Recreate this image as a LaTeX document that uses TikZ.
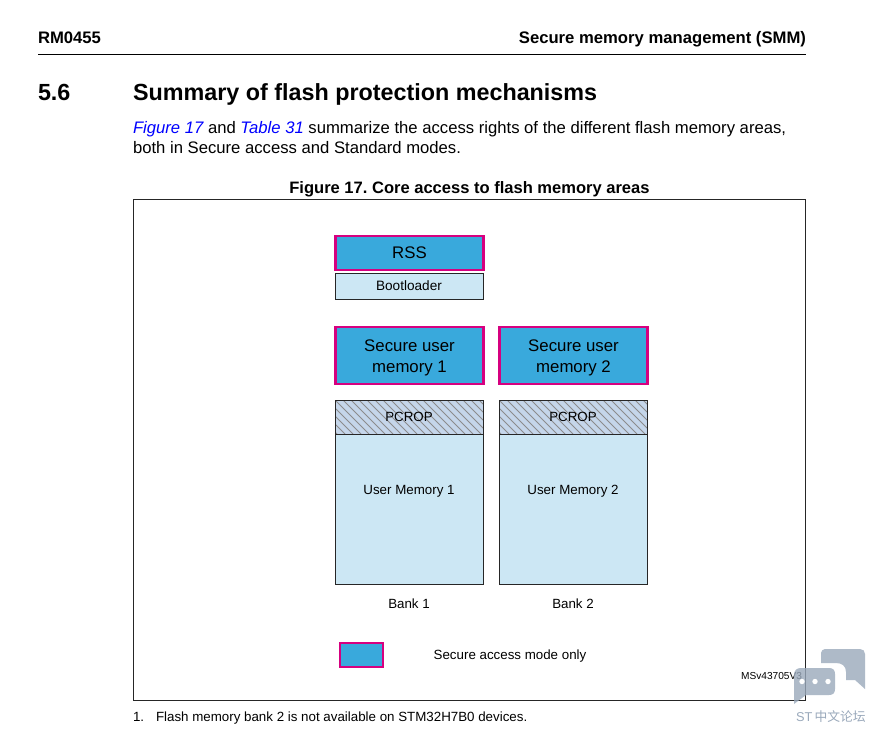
\documentclass[tikz,border=0pt]{standalone}
\usepackage{fontspec}
\setmainfont{Liberation Sans}
\newfontfamily\cjk{Noto Sans CJK SC}
\definecolor{stblue}{HTML}{39A9DC}
\definecolor{stlight}{HTML}{CCE7F4}
\definecolor{stpcrop}{HTML}{C5D6EA}
\definecolor{stpink}{HTML}{D6007F}
\definecolor{stwm}{HTML}{9AA9BB}
\definecolor{stlink}{HTML}{0000FF}
\newcommand{\fs}[1]{\fontsize{#1}{#1}\selectfont}
\tikzset{
  txt/.style={inner sep=0pt,outer sep=0pt,text=black},
  secure/.style={draw=stpink,line width=1.6pt,fill=stblue,minimum width=148*0.75pt,align=center,inner sep=0pt,font=\fs{12.6}},
  plain/.style={draw=black!85,line width=0.75pt,fill=stlight,inner sep=0pt,align=center},
  hatchbox/.style={draw=black!85,line width=0.75pt,fill=stpcrop,inner sep=0pt},
  hatchline/.style={draw=black!45,line width=0.7pt},
  wm/.style={fill=stwm,draw=none,fill opacity=0.8}
}
\begin{document}
\frenchspacing
\begin{tikzpicture}[x=0.75pt,y=-0.75pt]
\useasboundingbox (0,0) rectangle (873,732);
\fill[white] (0,0) rectangle (873,732);
% header
\node[txt,anchor=base west,font=\fs{12.5}\bfseries] (rm) at (38,43) {RM0455};
\node[txt,anchor=base east,font=\fs{12.5}\bfseries] (smm) at (806,43) {Secure memory management (SMM)};
\draw[black,line width=0.6pt] (38,54.5) -- (806,54.5);
\node[txt,anchor=base west,font=\fs{17.5}\bfseries] (sec) at (38,100) {5.6};
\node[txt,anchor=base west,font=\fs{17.5}\bfseries] (title) at (133,100) {Summary of flash protection mechanisms};
\node[txt,anchor=base west,font=\fs{12.5}] (p1) at (133,133) {{\color{stlink}\itshape Figure 17} and {\color{stlink}\itshape Table 31} summarize the access rights of the different flash memory areas,};
\node[txt,anchor=base west,font=\fs{12.5}] (p2) at (133,153) {both in Secure access and Standard modes.};
\node[txt,anchor=base,font=\fs{12.4}\bfseries] (cap) at (469.5,193) {Figure 17. Core access to flash memory areas};
% frame
\draw[black!85,line width=0.75pt] (133,199.5) rectangle (805.5,700);
% boxes
\node[secure,minimum height=34*0.75pt] (rss) at (409.5,253) {RSS};
\node[plain,minimum width=148*0.75pt,minimum height=26*0.75pt,font=\fs{10.2}] (boot) at (409,286) {Bootloader};
\node[secure,minimum height=57*0.75pt] (s1) at (409.5,355.5) {\rule{0pt}{12.6pt}Secure user\\[2.7pt]memory 1};
\node[secure,minimum height=57*0.75pt] (s2) at (573.5,355.5) {\rule{0pt}{12.6pt}Secure user\\[2.7pt]memory 2};
% PCROP and user memory
\foreach \n/\xa/\xb/\cx in {1/335/483/409,2/499/647/573}{
  \node[plain,minimum width=148*0.75pt,minimum height=150*0.75pt] (u\n) at (\cx,509) {};
  \node[txt,font=\fs{10}] (ut\n) at (\cx,491.5) {User Memory \n};
  \node[hatchbox,minimum width=148*0.75pt,minimum height=34*0.75pt] (p\n) at (\cx,417) {};
  \begin{scope}
    \clip (\xa,400) rectangle (\xb,434);
    \foreach \d in {-32,-24,...,160}{
      \draw[hatchline] (\xa+\d,400) -- (\xa+\d+34,434);
    }
  \end{scope}
  \draw[black!85,line width=0.75pt] (\xa,400) rectangle (\xb,434);
  \node[txt,font=\fs{10}] (pt\n) at (\cx,416.5) {PCROP};
  \node[txt,font=\fs{10}] (bank\n) at (\cx,603.5) {Bank \n};
}
% legend
\node[draw=stpink,line width=0.8pt,fill=stblue,minimum width=43*0.75pt,minimum height=24*0.75pt,inner sep=0pt] (leg) at (361.5,655) {};
\node[txt,font=\fs{10}] (legt) at (510,656.5) {Secure access mode only};
\node[txt,anchor=east,font=\fs{7.6}] (ms) at (802,676) {MSv43705V3};
\node[txt,anchor=base west,font=\fs{10}] (fn1) at (133,721) {1.};
\node[txt,anchor=base west,font=\fs{10}] (fn) at (156,721) {Flash memory bank 2 is not available on STM32H7B0 devices.};
% watermark
\fill[wm] (825,649) -- (860,649) .. controls (863,649) and (865,651) .. (865,654) -- (865,689) -- (855,680) -- (846,680) -- (846,672) .. controls (846,666) and (842,663) .. (836,663) -- (821,663) -- (821,653) .. controls (821,651) and (823,649) .. (825,649) -- cycle;
\fill[wm] (801,668) -- (829,668) .. controls (833,668) and (835,670) .. (835,674) -- (835,689) .. controls (835,693) and (833,695) .. (829,695) -- (806,695) -- (794,704) -- (794,675) .. controls (794,670) and (797,668) .. (801,668) -- cycle;
\fill[white] (802,681.5) circle (2.7) (815,681.5) circle (2.7) (828,681.5) circle (2.7);
\node[txt,anchor=base west,text=stwm,font=\fs{9.6}] (wmt) at (796,721) {ST\,{\cjk 中文论坛}};
\end{tikzpicture}
\end{document}
